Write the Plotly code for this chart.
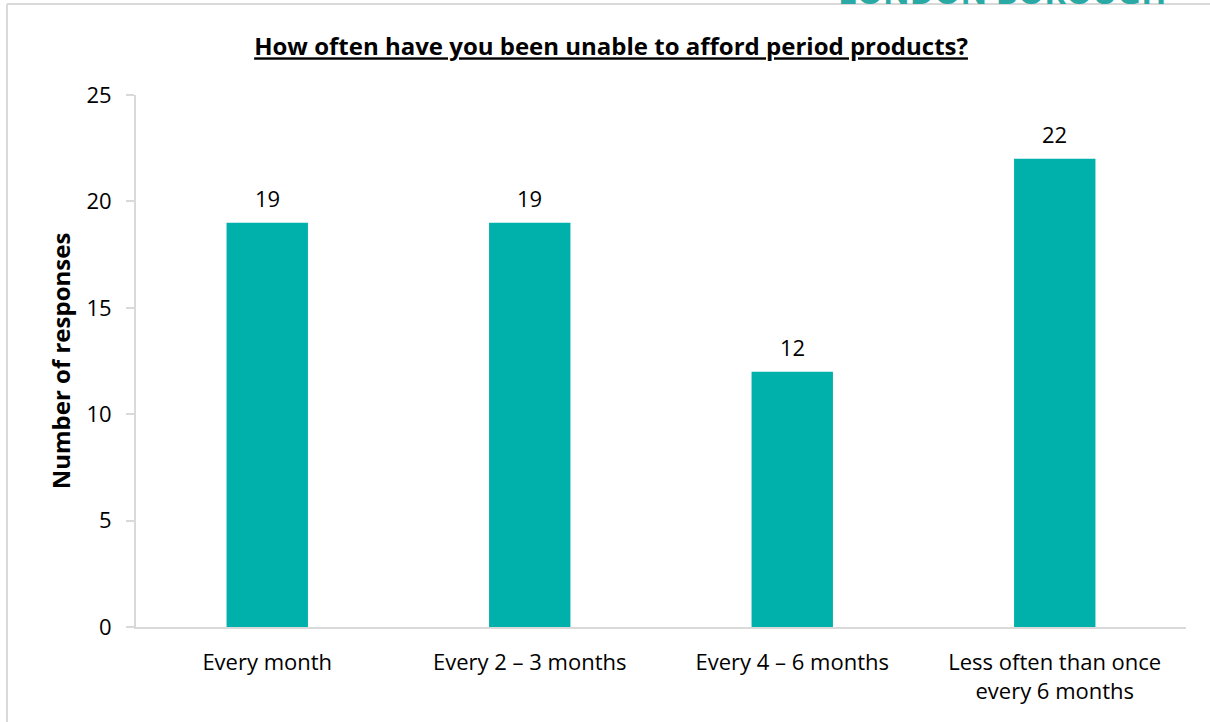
import plotly.graph_objects as go

# Survey responses: frequency of being unable to afford period products
categories = [
    "Every month",
    "Every 2 – 3 months",
    "Every 4 – 6 months",
    "Less often than once<br>every 6 months",
]
responses = [19, 19, 12, 22]
y_ticks = [0, 5, 10, 15, 20, 25]

BAR_COLOR = "#00B0AA"
AXIS_COLOR = "#D9D9D9"
FONT = "Open Sans"
TICK_SIZE = 22

fig = go.Figure(
    go.Bar(
        x=categories,
        y=responses,
        marker=dict(color=BAR_COLOR, line=dict(width=0)),
        width=0.31,
        hoverinfo="x+y",
    )
)

# Value labels above each bar
for cat, val in zip(categories, responses):
    fig.add_annotation(
        x=cat, y=val, text=str(val), showarrow=False,
        yanchor="bottom", yshift=8,
        font=dict(family=FONT, size=TICK_SIZE, color="#000000"),
    )

# Logo text peeking in at the top-right corner
fig.add_annotation(
    x=0.983, y=1.171, xref="paper", yref="paper",
    text="<b>LONDON BOROUGH</b>", showarrow=False,
    xanchor="right", yanchor="bottom", yshift=-12,
    font=dict(family=FONT, size=33, color="#2BA9A5"),
)

# Outer frame lines (left and top)
fig.add_shape(type="line", xref="paper", yref="paper",
              x0=-0.1229, x1=-0.1229, y0=-0.3, y1=1.1711,
              line=dict(color="#D9D9D9", width=2))
fig.add_shape(type="line", xref="paper", yref="paper",
              x0=-0.1229, x1=1.05, y0=1.1711, y1=1.1711,
              line=dict(color="#D9D9D9", width=2))

fig.update_layout(
    width=1210, height=722,
    margin=dict(l=136, r=24, t=95, b=95),
    paper_bgcolor="white", plot_bgcolor="white",
    showlegend=False,
    font=dict(family=FONT, color="#000000"),
    title=dict(
        text="<b><u>How often have you been unable to afford period products?</u></b>",
        x=0.505, xanchor="center", y=0.935, yanchor="middle",
        font=dict(family=FONT, size=24, color="#000000"),
    ),
    xaxis=dict(
        showline=True, linecolor=AXIS_COLOR, linewidth=2,
        showgrid=False, ticks="", zeroline=False,
        tickfont=dict(family=FONT, size=TICK_SIZE, color="#000000"),
        ticklabelstandoff=15,
    ),
    yaxis=dict(
        range=[0, 25], tickvals=y_ticks,
        showline=True, linecolor=AXIS_COLOR, linewidth=2,
        ticks="outside", ticklen=8, tickcolor=AXIS_COLOR, tickwidth=2,
        showgrid=False, zeroline=False,
        tickfont=dict(family=FONT, size=TICK_SIZE, color="#000000"),
        ticklabelstandoff=10,
        title=dict(text="<b>Number of responses</b>",
                   font=dict(family=FONT, size=24, color="#000000"),
                   standoff=9),
    ),
)

fig.write_html("out.html")
